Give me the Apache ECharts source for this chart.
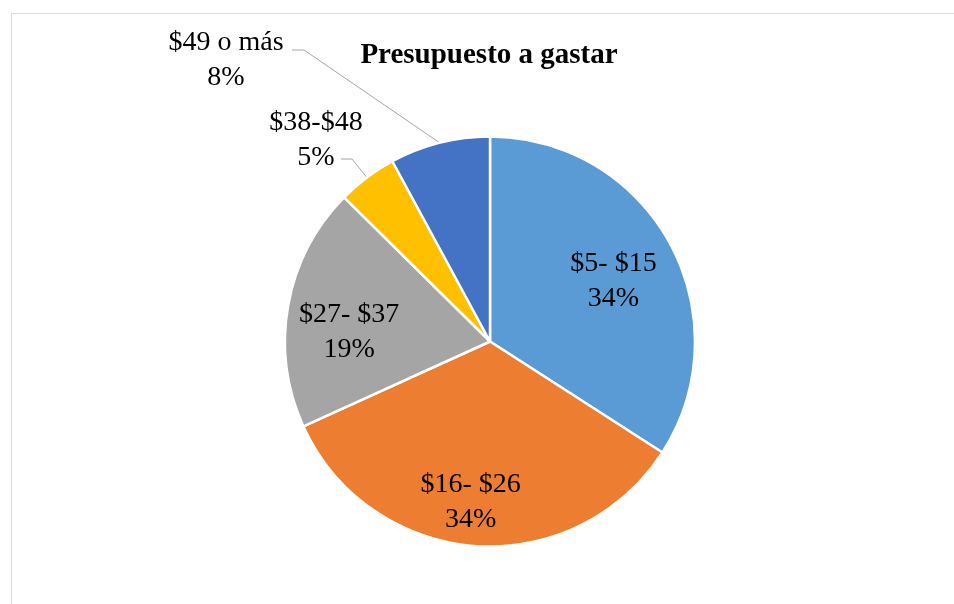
<!DOCTYPE html>
<html><head><meta charset="utf-8">
<script src="https://cdn.jsdelivr.net/npm/echarts@6/dist/echarts.min.js"></script>
<style>html,body{margin:0;padding:0;background:#fff}#c{width:954px;height:604px}</style>
</head><body><div id="c"></div>
<script>
const categories = ['$5- $15', '$16- $26', '$27- $37', '$38-$48', '$49 o más'];
const values = [34.1, 34.1, 19.2, 4.7, 7.9];
const colors = ['#5B9BD5', '#ED7D31', '#A5A5A5', '#FFC000', '#4472C4'];
const chartTitle = 'Presupuesto a gastar';
const insideIdx = [0, 1, 2];

const FONT = '"Liberation Serif", "Times New Roman", serif';
const chart = echarts.init(document.getElementById('c'), null, {renderer: 'canvas'});
const labelStyle = {
  color: '#000', fontFamily: FONT, fontSize: 28, lineHeight: 35,
  formatter: '{b}\n{d}%', align: 'center'
};

const mainData = categories.map((c, i) => ({
  name: c, value: values[i],
  itemStyle: {color: colors[i]},
  label: insideIdx.includes(i) ? {show: false} : {show: true, position: 'outside'},
  labelLine: insideIdx.includes(i) ? {show: false} : {show: true}
}));
const overlayData = categories.map((c, i) => ({
  name: c, value: values[i],
  label: {show: insideIdx.includes(i)}
}));

chart.setOption({
  backgroundColor: '#fff',
  animation: false,
  title: {
    text: chartTitle, left: 484, top: 36, textAlign: 'center',
    textStyle: {fontFamily: FONT, fontWeight: 'bold', fontSize: 29, color: '#000'}
  },
  graphic: [{
    type: 'rect', silent: true,
    shape: {x: 11.5, y: 13.5, width: 2000, height: 2000},
    style: {fill: 'none', stroke: '#d9d9d9', lineWidth: 1}
  }],
  series: [
    {
      type: 'pie', center: [490, 341.5], radius: 205, startAngle: 90, clockwise: true,
      avoidLabelOverlap: false, percentPrecision: 0, silent: true,
      itemStyle: {borderColor: '#fff', borderWidth: 2.5},
      label: Object.assign({}, labelStyle),
      labelLine: {lineStyle: {color: '#a6a6a6', width: 1}, length: 10, length2: 10},
      emphasis: {disabled: true},
      labelLayout: function (p) {
        const s = p.labelLinePoints ? p.labelLinePoints[0] : null;
        if (p.dataIndex === 3) {
          return {x: 316, y: 140, align: 'center', verticalAlign: 'middle',
            labelLinePoints: [s, [352, 159], [341, 159]]};
        }
        if (p.dataIndex === 4) {
          return {x: 226, y: 60, align: 'center', verticalAlign: 'middle',
            labelLinePoints: [s, [304, 50], [292, 50]]};
        }
        return {};
      },
      data: mainData
    },
    {
      type: 'pie', center: [490, 341.5], radius: [0, 280], startAngle: 90, clockwise: true,
      avoidLabelOverlap: false, percentPrecision: 0, silent: true, z: 5,
      itemStyle: {color: 'rgba(0,0,0,0)', borderWidth: 0},
      label: Object.assign({position: 'inside'}, labelStyle),
      labelLine: {show: false},
      emphasis: {disabled: true},
      labelLayout: function (p) {
        if (p.dataIndex === 0) return {dx: -2, dy: 8};
        if (p.dataIndex === 1) return {dx: -9, dy: 18};
        if (p.dataIndex === 2) return {dx: 0, dy: 16};
        return {};
      },
      data: overlayData
    }
  ]
});
</script></body></html>
